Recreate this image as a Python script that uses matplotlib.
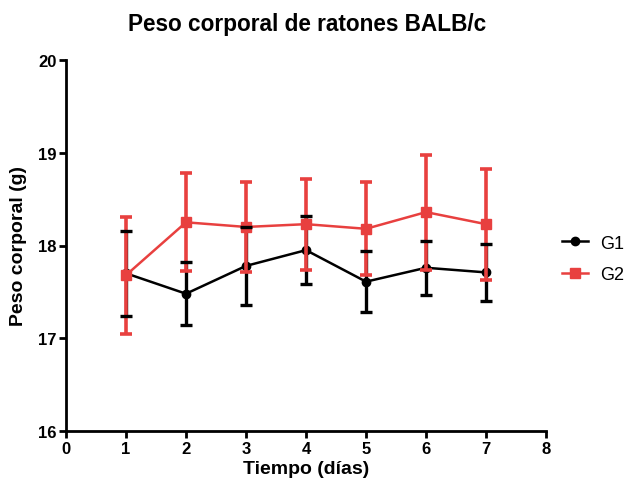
import matplotlib
matplotlib.use('Agg')
import matplotlib.pyplot as plt
from matplotlib.lines import Line2D

plt.rcParams['font.family'] = ['Liberation Sans', 'DejaVu Sans']
plt.rcParams['font.weight'] = 'bold'

# datos
dias = [1, 2, 3, 4, 5, 6, 7]
g1_media = [17.70, 17.48, 17.78, 17.95, 17.61, 17.76, 17.71]
g1_de = [0.46, 0.34, 0.42, 0.37, 0.33, 0.29, 0.31]
g2_media = [17.68, 18.25, 18.20, 18.23, 18.18, 18.36, 18.23]
g2_de = [0.63, 0.53, 0.49, 0.49, 0.50, 0.62, 0.60]

rojo = '#E8403F'

fig = plt.figure(figsize=(6.28, 4.85), dpi=100)
ax = fig.add_axes([66 / 628, 1 - 432 / 485, 480 / 628, 371 / 485])

l1, caps1, bars1 = ax.errorbar(dias, g1_media, yerr=g1_de, color='black', marker='o',
                               markersize=6, lw=1.8, elinewidth=2.4, capsize=4.5,
                               capthick=2.4, zorder=3)
l2, caps2, bars2 = ax.errorbar(dias, g2_media, yerr=g2_de, color=rojo, marker='s',
                               markersize=6.5, lw=1.8, elinewidth=2.6, capsize=4.5,
                               capthick=2.6, zorder=4)
# las barras negras quedan encima de las rojas
for c in caps1:
    c.set_zorder(5)

ax.set_xlim(0, 8)
ax.set_ylim(16, 20)
ax.set_xticks(range(0, 9))
ax.set_yticks([16, 17, 18, 19, 20])
for s in ['top', 'right']:
    ax.spines[s].set_visible(False)
for s in ['left', 'bottom']:
    ax.spines[s].set_linewidth(2)
ax.tick_params(width=2, length=5, labelsize=12, pad=2)

ax.set_xlabel('Tiempo (días)', fontsize=14, fontweight='bold', labelpad=3)
ax.set_ylabel('Peso corporal (g)', fontsize=14, fontweight='bold', labelpad=8)
fig.text(0.5 * (126 + 488) / 628, 1 - 24 / 485, 'Peso corporal de ratones BALB/c',
         ha='center', va='center', fontsize=16.3, fontweight='bold')

handles = [Line2D([], [], color='black', marker='o', markersize=6, lw=1.8),
           Line2D([], [], color=rojo, marker='s', markersize=6.5, lw=1.8)]
leg = fig.legend(handles, ['G1', 'G2'], loc='center left',
                 bbox_to_anchor=(562 / 628, 1 - 260 / 485), frameon=False,
                 prop={'size': 13, 'weight': 'normal'}, handlelength=1.45,
                 handletextpad=0.65, labelspacing=0.8, borderpad=0,
                 borderaxespad=0)

fig.savefig('out.png', dpi=100)
